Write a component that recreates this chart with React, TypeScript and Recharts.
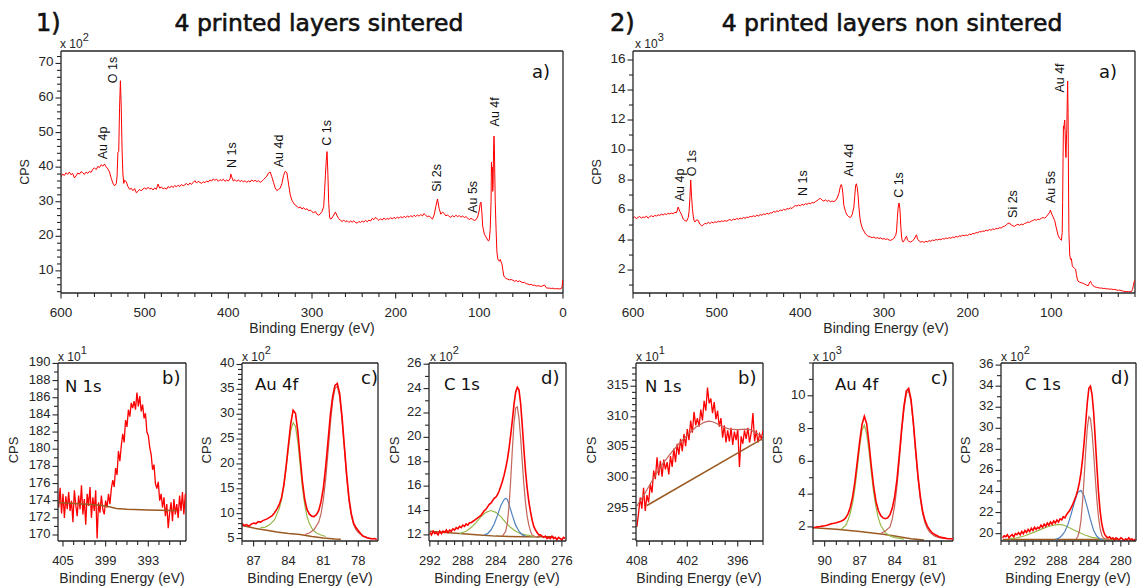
import React from 'react';
import { LineChart, Line, XAxis, YAxis, ReferenceDot, CartesianGrid } from 'recharts';

type Pt = [number, number];

// ---------------- Survey spectra (Binding energy eV, CPS in axis units) ----------------
const surveySintered: Pt[] = [
  [600,37.2],[598,38.0],[596,37.6],[594,38.4],[592,37.9],[590,38.6],[588,37.8],[586,38.2],[584,36.9],[582,37.5],
  [580,38.3],[578,38.0],[576,38.7],[574,38.4],[572,37.9],[570,38.6],[568,38.2],[566,38.8],[564,38.5],[562,39.4],
  [560,39.8],[558,39.3],[556,40.2],[554,39.9],[552,40.7],[550,40.3],[548,40.9],[546,40.1],[544,39.5],[542,38.6],
  [540,36.8],[538,35.4],[536,34.6],[534,35.2],[533,37.2],[532,44.3],[531,44.5],[530,57.3],[529,65.0],[528,57.4],
  [527,45.0],[526,38.0],[525,35.3],[524,36.2],[522,35.8],[520,34.4],[518,33.6],[516,33.9],[514,33.2],[512,33.8],
  [510,32.6],[508,33.0],[506,33.6],[504,33.1],[502,33.7],[500,34.0],[498,33.6],[496,34.2],[494,33.7],[492,33.9],
  [490,33.4],[488,34.0],[486,33.6],[484,35.1],[482,33.9],[480,34.3],[478,33.7],[476,34.0],[474,33.6],[472,34.4],
  [470,34.0],[468,34.6],[466,34.1],[464,34.7],[462,34.3],[460,34.8],[458,34.4],[456,35.0],[454,34.6],[452,34.9],
  [450,35.3],[448,34.8],[446,35.4],[444,35.0],[442,35.6],[440,36.1],[438,35.4],[436,35.9],[434,35.6],[432,35.3],
  [430,35.8],[428,35.5],[426,36.0],[424,35.7],[422,36.3],[420,36.0],[418,36.6],[416,36.2],[414,36.5],[412,35.9],
  [410,36.4],[408,36.1],[406,36.5],[404,35.9],[402,36.3],[400,36.0],[398,36.6],[397,38.0],[396,37.2],[394,36.0],
  [392,36.4],[390,35.9],[388,36.3],[386,35.8],[384,36.2],[382,35.7],[380,36.1],[378,35.6],[376,36.0],[374,35.7],
  [372,36.3],[370,35.9],[368,36.2],[366,35.8],[364,36.1],[362,35.6],[360,35.9],[358,36.4],[356,36.9],[354,37.4],
  [352,38.3],[350,38.6],[348,37.2],[346,35.6],[344,34.0],[342,33.2],[340,33.6],[338,33.9],[336,35.2],[334,37.6],
  [332,38.8],[330,38.4],[328,35.1],[326,32.0],[324,30.4],[322,29.6],[320,29.0],[318,28.7],[316,28.2],[314,28.5],
  [312,27.9],[310,28.3],[308,27.7],[306,28.0],[304,27.4],[302,27.6],[300,27.1],[298,26.8],[296,27.2],[294,26.4],
  [292,26.1],[290,26.5],[288,27.2],[286,28.6],[285,33.0],[284,37.5],[283,41.8],[282,44.5],[281,38.0],[280,29.5],
  [279,25.6],[278,25.0],[276,25.3],[274,26.2],[272,27.0],[270,25.9],[268,25.1],[266,24.6],[264,24.3],[262,24.7],
  [260,24.2],[258,24.5],[256,24.0],[254,24.4],[252,24.1],[250,24.5],[248,24.0],[246,23.8],[244,24.3],[242,24.0],
  [240,24.4],[238,24.1],[236,24.6],[234,24.2],[232,24.7],[230,24.4],[228,25.2],[226,24.8],[224,25.5],[222,25.0],
  [220,24.6],[218,25.1],[216,24.7],[214,25.3],[212,24.8],[210,25.2],[208,24.9],[206,25.4],[204,25.0],[202,25.5],
  [200,25.1],[198,25.6],[196,25.2],[194,25.7],[192,25.3],[190,25.8],[188,25.4],[186,25.9],[184,25.5],[182,26.0],
  [180,25.6],[178,26.1],[176,25.7],[174,26.2],[172,25.8],[170,26.3],[168,25.9],[166,26.6],[164,26.0],[162,25.7],
  [160,25.9],[158,25.4],[156,25.0],[154,26.2],[152,28.6],[150,30.8],[148,28.0],[146,26.4],[144,27.0],[142,26.6],
  [140,25.9],[138,26.2],[136,25.7],[134,25.5],[132,26.0],[130,25.6],[128,26.1],[126,25.7],[124,26.0],[122,25.5],
  [120,25.9],[118,25.4],[116,25.7],[114,25.3],[112,24.8],[110,25.2],[108,24.9],[106,24.6],[104,24.8],[102,25.6],
  [100,27.6],[99,29.4],[98,29.9],[97,27.0],[96,23.0],[95,21.8],[94,20.6],[92,19.8],[90,18.9],[89,18.6],
  [88,19.2],[87,22.0],[86,30.0],[85.5,41.5],[85,38.5],[84.5,40.0],[84,33.0],[83.5,35.0],[83,45.0],[82.5,49.0],
  [82,45.5],[81.5,38.0],[81,30.0],[80,22.0],[79,15.5],[78,13.5],[77,13.0],[76,12.8],[75,13.3],[74,12.6],
  [73,12.0],[72,10.5],[71,8.8],[70,8.2],[68,7.8],[66,7.6],[64,7.4],[62,7.5],[60,7.3],[58,7.0],
  [56,7.2],[54,6.9],[52,7.1],[50,6.8],[48,6.6],[46,6.7],[44,6.3],[42,6.2],[40,6.0],[38,6.1],
  [36,5.8],[34,5.9],[32,5.6],[30,5.7],[28,5.6],[26,5.5],[24,5.7],[22,5.9],[20,5.1],[18,5.0],
  [16,5.0],[14,4.9],[12,5.0],[10,4.8],[8,4.9],[6,4.8],[4,4.8],[2,4.9],[1,5.5],[0.5,7.2],[0,7.4],
];

const surveyNonSintered: Pt[] = [
  [600,5.49],[598,5.55],[596,5.42],[594,5.5],[592,5.58],[590,5.46],[588,5.54],[586,5.5],[584,5.6],[582,5.45],
  [580,5.56],[578,5.62],[576,5.55],[574,5.64],[572,5.6],[570,5.68],[568,5.64],[566,5.72],[564,5.67],[562,5.75],
  [560,5.7],[558,5.78],[556,5.74],[554,5.8],[552,5.76],[550,5.84],[548,5.82],[547,6.0],[546,6.2],[545,6.05],
  [544,5.9],[542,5.7],[540,5.4],[538,5.3],[536,5.25],[534,5.5],[533,5.9],[532,6.8],[531,8.0],[530,6.9],
  [529,6.1],[528,5.6],[527,5.3],[526,5.2],[524,5.35],[522,5.3],[520,5.05],[518,4.95],[516,5.0],[514,5.12],
  [512,5.08],[510,5.18],[508,5.1],[506,5.2],[504,5.14],[502,5.22],[500,5.18],[498,5.26],[496,5.2],[494,5.28],
  [492,5.24],[490,5.3],[488,5.25],[486,5.33],[484,5.36],[482,5.3],[480,5.4],[478,5.35],[476,5.44],[474,5.38],
  [472,5.46],[470,5.42],[468,5.5],[466,5.45],[464,5.53],[462,5.5],[460,5.58],[458,5.55],[456,5.62],[454,5.56],
  [452,5.66],[450,5.6],[448,5.7],[446,5.65],[444,5.74],[442,5.7],[440,5.78],[438,5.73],[436,5.82],[434,5.8],
  [432,5.9],[430,5.86],[428,5.95],[426,5.9],[424,6.0],[422,5.96],[420,6.05],[418,6.0],[416,6.1],[414,6.06],
  [412,6.15],[410,6.1],[408,6.22],[406,6.3],[404,6.26],[402,6.34],[400,6.28],[398,6.38],[396,6.33],[394,6.42],
  [392,6.38],[390,6.46],[388,6.42],[386,6.5],[384,6.48],[382,6.56],[380,6.62],[378,6.72],[376,6.78],[374,6.66],
  [372,6.6],[370,6.68],[368,6.58],[366,6.64],[364,6.55],[362,6.6],[360,6.56],[358,6.62],[356,6.8],[354,7.1],
  [352,7.6],[351,7.7],[350,7.5],[349,7.0],[348,6.3],[346,5.9],[344,5.65],[342,5.55],[340,5.5],[338,5.7],
  [336,6.2],[335,6.9],[334,7.6],[333,7.75],[332,7.5],[331,7.0],[330,6.2],[329,5.6],[328,5.2],[326,4.8],
  [324,4.6],[322,4.4],[320,4.3],[318,4.24],[316,4.2],[314,4.16],[312,4.2],[310,4.12],[308,4.16],[306,4.1],
  [304,4.14],[302,4.06],[300,4.1],[298,4.04],[296,4.08],[294,4.0],[292,3.98],[290,4.04],[288,4.12],[287,4.25],
  [286,4.3],[285,4.6],[284,5.5],[283,6.2],[282,6.47],[281,6.1],[280,5.0],[279,4.2],[278,3.92],[277,3.86],
  [276,3.95],[275,4.05],[274,4.2],[273,4.25],[272,4.0],[270,3.9],[268,3.86],[266,3.95],[264,4.05],[262,4.28],
  [261,4.35],[260,4.05],[258,3.95],[256,3.86],[254,3.9],[252,3.84],[250,3.92],[248,3.88],[246,3.96],[244,3.92],
  [242,4.0],[240,3.96],[238,4.04],[236,4.0],[234,4.06],[232,4.02],[230,4.1],[228,4.06],[226,4.14],[224,4.1],
  [222,4.16],[220,4.12],[218,4.2],[216,4.16],[214,4.24],[212,4.2],[210,4.28],[208,4.25],[206,4.32],[204,4.28],
  [202,4.34],[200,4.3],[198,4.4],[196,4.36],[194,4.44],[192,4.42],[190,4.5],[188,4.48],[186,4.56],[184,4.54],
  [182,4.6],[180,4.58],[178,4.66],[176,4.62],[174,4.7],[172,4.66],[170,4.74],[168,4.7],[166,4.78],[164,4.75],
  [162,4.82],[160,4.8],[158,4.88],[156,4.92],[154,5.0],[152,5.1],[150,5.14],[148,5.0],[146,4.95],[144,4.91],
  [142,5.0],[140,5.05],[138,4.98],[136,5.06],[134,5.02],[132,5.1],[130,5.14],[128,5.2],[126,5.18],[124,5.26],
  [122,5.3],[120,5.37],[118,5.32],[116,5.4],[114,5.36],[112,5.45],[110,5.5],[108,5.46],[106,5.55],[104,5.7],
  [102,5.85],[101,6.0],[100,5.8],[98,5.55],[96,5.3],[94,4.8],[92,4.33],[90,4.1],[88,3.98],[87,4.5],
  [86.5,6.5],[86,9.5],[85.5,11.6],[85,11.4],[84.5,11.8],[84,12.0],[83.5,11.2],[83,10.0],[82.5,9.5],[82,10.6],
  [81.5,11.4],[81,13.2],[80.5,14.6],[80,12.5],[79.5,8.0],[79,4.5],[78,3.0],[77,2.7],[76,2.75],[75,2.3],
  [74,2.2],[73,2.15],[72,2.1],[71,2.05],[70,1.7],[69,1.4],[68,1.25],[66,1.19],[64,1.15],[62,1.12],
  [60,1.05],[58,1.0],[56,0.95],[54,1.2],[53,1.25],[52,1.1],[50,0.95],[48,0.88],[46,0.85],[44,0.82],
  [42,0.8],[40,0.8],[38,0.77],[36,0.78],[34,0.74],[32,0.75],[30,0.72],[28,0.73],[26,0.7],[24,0.71],
  [22,0.67],[20,0.65],[18,0.66],[16,0.62],[14,0.6],[12,0.56],[10,0.57],[8,0.56],[6,0.55],[4,0.58],
  [3,0.7],[2,0.95],[1,1.2],[0.5,1.3],
];

// ---------------- High resolution spectra: energy grid start / step, then counts ----------------
const n1sSStart = 405.6, n1sSStep = 0.2;
const n1sSCounts = [
  173.2,175.5,172.5,174.8,172.0,174.5,173.0,175.0,172.8,174.0,171.5,175.2,173.5,172.2,174.6,173.0,175.8,172.4,174.2,171.2,
  174.8,173.4,175.6,172.0,174.4,172.8,175.2,169.6,173.8,172.6,174.6,173.0,172.4,174.0,173.2,174.8,173.6,175.4,176.4,175.6,
  177.8,177.0,179.8,178.6,180.4,181.8,180.8,183.4,182.6,184.6,183.8,185.4,184.8,185.6,184.6,186.6,185.0,186.2,184.4,185.2,
  183.6,184.2,182.0,181.6,180.2,179.4,177.6,178.2,176.0,175.4,176.2,174.0,174.8,173.2,174.4,172.2,173.6,170.8,172.6,173.8,
  171.6,174.2,172.4,173.6,172.0,174.6,172.8,175.0,172.4,174.8,
];
const n1sSBackground: Pt[] = [[405.7,173.8],[400,173.5],[398.5,173.3],[397.5,173.1],[396,173.0],[393,172.9],[390,172.85],[389,172.85]];

const au4fSStart = 88.0, au4fSStep = 0.2;
const au4fSCounts = [
  8.0,7.6,7.8,7.5,7.9,8.1,8.0,8.4,8.3,8.6,8.8,9.0,9.3,9.6,10.2,10.9,11.8,13.2,15.8,19.6,
  24.0,28.2,30.8,30.2,26.6,21.4,16.4,12.8,10.8,9.9,9.5,9.4,9.8,10.6,12.4,15.2,19.4,24.6,29.8,33.6,
  35.8,36.2,34.2,29.6,23.8,18.0,13.2,10.0,8.1,7.2,6.6,6.0,5.5,5.3,5.1,5.0,4.9,5.0,4.8,
];
const au4fSComp52: Pt[] = [[86.4,7.2],[86.0,7.3],[85.6,7.8],[85.2,8.8],[84.8,11.0],[84.6,12.8],[84.4,15.5],[84.2,19.2],[84.0,23.3],[83.8,26.8],[83.6,28.3],[83.4,27.6],[83.2,24.5],[83.0,19.8],[82.8,15.2],[82.6,11.7],[82.4,9.4],[82.2,8.0],[82.0,7.1],[81.8,6.5],[81.6,6.1],[81.2,5.7],[80.8,5.4]];
const au4fSComp72: Pt[] = [[82.6,5.8],[82.2,6.1],[81.8,6.8],[81.4,8.3],[81.2,10.0],[81.0,12.8],[80.8,17.0],[80.6,22.4],[80.4,28.0],[80.2,32.6],[80.0,35.2],[79.8,35.6],[79.6,33.6],[79.4,29.0],[79.2,23.2],[79.0,17.4],[78.8,12.6],[78.6,9.6],[78.4,7.8],[78.2,6.8],[78.0,6.2],[77.6,5.5],[77.2,5.2],[76.8,5.0]];
const au4fSBackground: Pt[] = [[88.0,7.6],[87.0,7.1],[86.0,6.7],[85.0,6.3],[84.0,6.0],[83.0,5.8],[82.0,5.4],[81.0,5.1],[80.0,4.9],[79.5,4.85]];

const c1sSStart = 292.0, c1sSStep = 0.2;
const c1sSCounts = [
  12.2,12.0,12.3,12.1,12.2,12.0,12.3,12.1,12.3,12.2,12.4,12.2,12.4,12.3,12.5,12.4,12.6,12.5,12.7,12.6,
  12.8,12.7,12.9,12.8,13.0,13.0,13.1,13.2,13.3,13.4,13.5,13.6,13.8,14.0,14.1,14.3,14.5,14.6,14.8,15.0,
  15.1,15.3,15.6,16.0,16.4,16.9,17.5,18.2,19.1,20.2,21.4,22.7,23.7,24.1,23.9,22.8,21.0,19.0,17.2,15.8,
  14.7,13.9,13.2,12.7,12.4,12.2,12.0,12.0,11.9,11.8,11.9,11.7,11.8,11.7,11.9,11.7,11.8,11.6,11.8,11.7,
  11.6,11.8,11.7,
];
const c1sSCompCC: Pt[] = [[283.2,11.9],[282.8,12.3],[282.6,13.0],[282.4,14.4],[282.2,16.5],[282.0,19.0],[281.8,21.2],[281.6,22.4],[281.4,22.5],[281.2,21.6],[281.0,20.0],[280.8,18.0],[280.6,16.1],[280.4,14.6],[280.2,13.5],[280.0,12.8],[279.8,12.3],[279.6,12.0],[279.2,11.85],[278.8,11.8]];
const c1sSCompB: Pt[] = [[285.4,12.0],[285.0,12.1],[284.6,12.4],[284.2,12.9],[283.8,13.6],[283.4,14.4],[283.0,14.9],[282.8,15.0],[282.6,14.9],[282.4,14.5],[282.0,13.6],[281.6,12.8],[281.2,12.3],[280.8,12.0],[280.4,11.9]];
const c1sSCompG: Pt[] = [[288.4,12.1],[287.6,12.3],[287.0,12.6],[286.4,13.0],[285.8,13.5],[285.2,13.85],[284.6,14.0],[284.0,13.85],[283.4,13.5],[282.8,13.0],[282.2,12.6],[281.6,12.3],[281.0,12.1],[280.4,12.0],[279.6,11.9],[279.0,11.85]];
const c1sSBackground: Pt[] = [[292,12.3],[288,12.1],[286,12.0],[284,11.9],[280.5,11.85],[277,11.85]];

const n1sNStart = 408.0, n1sNStep = 0.2;
const n1sNCounts = [
  292.0,294.2,296.8,295.0,298.4,294.6,297.2,296.0,299.0,297.6,301.2,299.8,303.4,300.4,302.8,300.2,303.0,301.4,302.6,300.6,
  303.6,301.8,304.8,302.6,305.6,303.8,306.4,304.4,307.2,305.2,308.0,306.2,309.4,307.4,310.8,308.6,309.8,308.4,311.2,309.4,
  312.6,311.0,314.8,312.2,313.0,310.6,312.4,309.6,311.0,308.4,309.8,306.6,308.6,305.8,307.8,306.0,308.2,305.4,307.6,306.2,
  308.0,301.8,306.8,305.6,307.8,306.4,308.2,305.8,307.4,310.6,306.0,307.8,305.8,307.2,306.4,307.8,
];
const n1sNFit: Pt[] = [[408.0,295.4],[407.0,297.6],[406.0,300.0],[405.0,302.2],[404.0,304.0],[403.0,305.6],[402.0,307.0],[401.0,308.3],[400.0,309.1],[399.5,309.3],[399.0,309.2],[398.5,308.9],[398.0,308.5],[397.0,308.0],[396.0,307.9],[395.0,308.0],[394.5,307.9],[394.0,307.5],[393.5,307.1],[393.0,306.9]];
const n1sNBackground: Pt[] = [[406.8,295.5],[393.2,306.3]];

const au4fNStart = 91.0, au4fNStep = 0.2;
const au4fNCounts = [
  1.95,1.98,2.00,2.02,2.05,2.07,2.10,2.15,2.20,2.22,2.25,2.30,2.35,2.42,2.55,2.80,3.20,3.85,4.80,6.00,
  7.20,8.25,8.75,8.30,7.10,5.70,4.45,3.55,3.00,2.70,2.55,2.50,2.55,2.75,3.15,3.85,4.90,6.40,8.00,9.40,
  10.30,10.45,9.80,8.40,6.70,5.10,3.85,2.95,2.40,2.05,1.82,1.65,1.55,1.48,1.40,1.36,1.33,1.30,1.28,1.28,
  1.27,
];
const au4fNComp52: Pt[] = [[88.6,1.85],[88.2,2.1],[88.0,2.4],[87.8,2.85],[87.6,3.5],[87.4,4.4],[87.2,5.6],[87.0,6.9],[86.8,7.9],[86.6,8.2],[86.4,7.7],[86.2,6.6],[86.0,5.3],[85.8,4.1],[85.6,3.2],[85.4,2.55],[85.2,2.1],[84.8,1.65],[84.4,1.45],[84.0,1.35],[83.2,1.25]];
const au4fNComp72: Pt[] = [[85.2,1.6],[84.8,1.75],[84.4,2.0],[84.2,2.5],[84.0,3.3],[83.8,4.5],[83.6,6.1],[83.4,7.8],[83.2,9.2],[83.0,10.15],[82.8,10.3],[82.6,9.65],[82.4,8.25],[82.2,6.55],[82.0,4.95],[81.8,3.7],[81.6,2.8],[81.4,2.25],[81.2,1.9],[81.0,1.68],[80.6,1.45],[80.2,1.35],[79.6,1.3]];
const au4fNBackground: Pt[] = [[91.0,1.95],[89.0,1.85],[87.0,1.72],[85.0,1.55],[84.0,1.45],[82.6,1.28],[81.5,1.2]];

const c1sNStart = 294.8, c1sNStep = 0.2;
const c1sNCounts = [
  19.6,19.8,19.7,19.9,19.6,19.8,19.9,19.7,20.0,19.9,20.1,19.9,20.2,20.0,20.3,20.1,20.4,20.2,20.5,20.3,
  20.6,20.4,20.6,20.5,20.8,20.6,20.9,20.7,21.0,20.8,21.1,20.9,21.2,21.0,21.3,21.1,21.4,21.3,21.6,21.5,
  21.8,22.0,22.2,22.5,22.8,23.2,23.6,24.1,24.8,25.7,27.0,28.6,30.5,32.4,33.8,34.0,33.2,31.5,29.0,26.4,
  24.0,22.2,21.0,20.3,19.9,19.7,19.6,19.7,19.5,19.6,19.4,19.6,19.5,19.4,19.6,19.5,19.3,19.5,19.4,19.6,
  19.4,19.5,19.3,19.5,
];
const c1sNCompCC: Pt[] = [[285.6,19.5],[285.4,19.7],[285.2,20.2],[285.0,21.2],[284.8,22.9],[284.6,25.2],[284.4,27.8],[284.2,30.0],[284.0,31.1],[283.8,30.9],[283.6,29.6],[283.4,27.6],[283.2,25.3],[283.0,23.2],[282.8,21.6],[282.6,20.5],[282.4,19.9],[282.2,19.6],[281.8,19.45],[281.4,19.4]];
const c1sNCompB: Pt[] = [[288.2,19.45],[287.8,19.55],[287.4,19.8],[287.0,20.2],[286.6,20.9],[286.2,21.9],[285.8,23.0],[285.4,23.9],[285.0,24.1],[284.6,23.6],[284.2,22.5],[283.8,21.3],[283.4,20.3],[283.0,19.75],[282.6,19.5],[282.2,19.4]];
const c1sNCompG: Pt[] = [[294.0,19.5],[293.0,19.6],[292.0,19.8],[291.0,20.1],[290.0,20.4],[289.0,20.7],[288.0,20.85],[287.4,20.85],[286.8,20.7],[286.0,20.4],[285.2,20.1],[284.4,19.85],[283.6,19.65],[282.6,19.5],[281.6,19.45],[280.6,19.4]];
const c1sNBackground: Pt[] = [[294.8,19.45],[280.4,19.45]];

// ---------------- Peak annotations (BE, CPS position of label centre) ----------------
type PeakLabel = { text: string; x: number; y: number };
const peaksSintered: PeakLabel[] = [
  { text: 'Au 4p', x: 550, y: 47.0 }, { text: 'O 1s', x: 538.3, y: 68.1 }, { text: 'N 1s', x: 396, y: 43.5 },
  { text: 'Au 4d', x: 339, y: 44.7 }, { text: 'C 1s', x: 281.7, y: 49.9 }, { text: 'Si 2s', x: 150, y: 36.9 },
  { text: 'Au 5s', x: 107.8, y: 31.4 }, { text: 'Au 4f', x: 81.7, y: 56.0 },
];
const peaksNonSintered: PeakLabel[] = [
  { text: 'Au 4p', x: 544.2, y: 7.67 }, { text: 'O 1s', x: 529.1, y: 9.13 }, { text: 'N 1s', x: 397.1, y: 7.8 },
  { text: 'Au 4d', x: 341.8, y: 9.33 }, { text: 'C 1s', x: 282.5, y: 7.67 }, { text: 'Si 2s', x: 146.3, y: 6.4 },
  { text: 'Au 5s', x: 100.9, y: 7.53 }, { text: 'Au 4f', x: 90, y: 14.8 },
];

// ---------------- Tick labels ----------------
const surveyXMajor = [600, 500, 400, 300, 200, 100, 0];
const surveyXMajorNS = [600, 500, 400, 300, 200, 100];
const surveyYMajorS = [10, 20, 30, 40, 50, 60, 70];
const surveyYMajorNS = [2, 4, 6, 8, 10, 12, 14, 16];
const n1sSXMajor = [405, 399, 393];
const n1sSYMajor = [170, 172, 174, 176, 178, 180, 182, 184, 186, 188, 190];
const au4fSXMajor = [87, 84, 81, 78];
const au4fSYMajor = [5, 10, 15, 20, 25, 30, 35, 40];
const c1sSXMajor = [292, 288, 284, 280, 276];
const c1sSYMajor = [12, 14, 16, 18, 20, 22, 24, 26];
const n1sNXMajor = [408, 402, 396];
const n1sNYMajor = [295, 300, 305, 310, 315];
const au4fNXMajor = [90, 87, 84, 81];
const au4fNYMajor = [2, 4, 6, 8, 10];
const c1sNXMajor = [292, 288, 284, 280];
const c1sNYMajor = [20, 22, 24, 26, 28, 30, 32, 34, 36];

// ---------------- helpers ----------------
const FONT_AX = "'Liberation Sans', Arial, Helvetica, sans-serif";
const FONT_T = "'DejaVu Sans', Verdana, sans-serif";
const AXC = '#262626';
const TXT = '#262626';
const RED = '#ff0000';
const GREEN = '#98b84c';
const BLUE = '#4f81bd';
const BROWN = '#9a5a22';
const ROSE = '#c2655a';

type XY = { x: number; y: number };
const toPts = (p: Pt[]): XY[] => p.map(([x, y]) => ({ x, y }));
const gridPts = (start: number, step: number, ys: number[]): XY[] =>
  ys.map((y, i) => ({ x: +(start - i * step).toFixed(3), y }));
const range = (a: number, b: number, s: number): number[] => {
  const out: number[] = [];
  for (let v = a; v <= b + 1e-9; v += s) out.push(+v.toFixed(4));
  return out;
};

type Series = { data: XY[]; color: string; width: number };

type PanelProps = {
  left: number; top: number; width: number; height: number;
  xDomain: [number, number]; yDomain: [number, number];
  xTicks: number[]; xMajor: number[]; yTicks: number[]; yMajor: number[];
  series: Series[]; labels?: PeakLabel[]; fs: number;
};

const PAD_L = 60, PAD_T = 10, PAD_R = 10, PAD_B = 50;

function Panel(p: PanelProps) {
  const isMaj = (arr: number[], v: number) => arr.some((m) => Math.abs(m - v) < 1e-6);
  const XTick = (tp: any) => {
    const { x, y, payload } = tp;
    const v = payload.value as number;
    const maj = isMaj(p.xMajor, v);
    return (
      <g>
        <line x1={x} x2={x} y1={y} y2={y + (maj ? 5.5 : 4)} stroke={AXC} strokeWidth={1.1} />
        {maj && (
          <text x={x} y={y + 23.5} textAnchor="middle" fontSize={p.fs} fontFamily={FONT_AX} fill={TXT}>
            {String(v)}
          </text>
        )}
      </g>
    );
  };
  const YTick = (tp: any) => {
    const { x, y, payload } = tp;
    const v = payload.value as number;
    const maj = isMaj(p.yMajor, v);
    return (
      <g>
        <line x1={x} x2={x - (maj ? 5.5 : 4)} y1={y} y2={y} stroke={AXC} strokeWidth={1.1} />
        {maj && (
          <text x={x - 7.5} y={y + 3} textAnchor="end" fontSize={p.fs} fontFamily={FONT_AX} fill={TXT}>
            {String(v)}
          </text>
        )}
      </g>
    );
  };
  const axisLine = { stroke: AXC, strokeWidth: 1.3 };
  return (
    <div style={{ position: 'absolute', left: p.left - PAD_L, top: p.top - PAD_T }}>
      <LineChart
        width={p.width + PAD_L + PAD_R}
        height={p.height + PAD_T + PAD_B}
        margin={{ top: PAD_T, right: PAD_R, bottom: 0, left: 0 }}
      >
        {/* frame: top and right edges of the plot box */}
        <CartesianGrid
          stroke={AXC} strokeWidth={1.3} fill="none"
          horizontalCoordinatesGenerator={(gp: any) => [gp.offset.top]}
          verticalCoordinatesGenerator={(gp: any) => [gp.offset.left + gp.offset.width]}
        />
        <XAxis
          xAxisId={0} type="number" dataKey="x" domain={p.xDomain} reversed allowDataOverflow
          ticks={p.xTicks} interval={0} tick={XTick} tickLine={false} tickSize={0} tickMargin={0}
          height={PAD_B} axisLine={axisLine}
        />
        <YAxis
          yAxisId={0} type="number" domain={p.yDomain} allowDataOverflow ticks={p.yTicks} interval={0}
          tick={YTick} tickLine={false} tickSize={0} tickMargin={0} width={PAD_L} axisLine={axisLine}
        />
        {p.series.map((s, i) => (
          <Line
            key={i} xAxisId={0} yAxisId={0} data={s.data} dataKey="y" type="linear"
            stroke={s.color} strokeWidth={s.width} dot={false} activeDot={false}
            isAnimationActive={false}
          />
        ))}
        {(p.labels || []).map((l, i) => (
          <ReferenceDot
            key={'l' + i} xAxisId={0} yAxisId={0} x={l.x} y={l.y} r={0}
            shape={(sp: any) => (
              <text
                x={sp.cx} y={sp.cy} transform={`rotate(-90 ${sp.cx} ${sp.cy})`} textAnchor="middle"
                dominantBaseline="central" fontSize={12.5} fontFamily={FONT_AX} fill="#111"
              >
                {l.text}
              </text>
            )}
          />
        ))}
      </LineChart>
    </div>
  );
}

function Exp({ x, y, base, exp }: { x: number; y: number; base: string; exp: string }) {
  return (
    <text x={x} y={y} fontSize={12} fontFamily={FONT_AX} fill={TXT}>
      {base}
      <tspan dy={-7} fontSize={11}>{exp}</tspan>
    </text>
  );
}

function VText({ x, y, text, fs = 13 }: { x: number; y: number; text: string; fs?: number }) {
  return (
    <text x={x} y={y} transform={`rotate(-90 ${x} ${y})`} textAnchor="middle" dominantBaseline="central"
      fontSize={fs} fontFamily={FONT_AX} fill={TXT}>
      {text}
    </text>
  );
}

function BE({ x, y, fs = 14 }: { x: number; y: number; fs?: number }) {
  return (
    <text x={x} y={y} textAnchor="middle" fontSize={fs} fontFamily={FONT_AX} fill={TXT}>
      Binding Energy (eV)
    </text>
  );
}

function T({ x, y, text, fs, anchor = 'start', bold = false }: { x: number; y: number; text: string; fs: number; anchor?: string; bold?: boolean }) {
  return (
    <text x={x} y={y} textAnchor={anchor as any} fontSize={fs} fontFamily={FONT_T} fill="#111"
      stroke={bold ? '#111' : 'none'} strokeWidth={bold ? 0.6 : 0}>
      {text}
    </text>
  );
}

export default function App() {
  const BT = 363, BH = 178;
  return (
    <div style={{ position: 'absolute', left: 0, top: 0, width: 1137, height: 587, overflow: 'hidden', background: '#fff' }}>
      {/* survey panels */}
      <Panel
        left={61} top={51} width={502} height={242} xDomain={[0, 600]} yDomain={[3.6, 73.6]}
        xTicks={range(0, 600, 20)} xMajor={surveyXMajor} yTicks={range(4, 72, 2)} yMajor={surveyYMajorS}
        series={[{ data: toPts(surveySintered), color: RED, width: 1 }]} labels={peaksSintered} fs={13.5}
      />
      <Panel
        left={633} top={51} width={502} height={242} xDomain={[0, 600]} yDomain={[0.47, 16.6]}
        xTicks={range(0, 600, 20)} xMajor={surveyXMajorNS} yTicks={range(1, 16, 1)} yMajor={surveyYMajorNS}
        series={[{ data: toPts(surveyNonSintered), color: RED, width: 1 }]} labels={peaksNonSintered} fs={13.5}
      />
      {/* detail panels, sintered */}
      <Panel
        left={58} top={BT} width={128} height={BH} xDomain={[387.7, 405.7]} yDomain={[169.3, 190.05]}
        xTicks={range(388.5, 405, 1.5)} xMajor={n1sSXMajor} yTicks={range(170, 190, 1)} yMajor={n1sSYMajor}
        series={[
          { data: gridPts(n1sSStart, n1sSStep, n1sSCounts), color: RED, width: 1.3 },
          { data: toPts(n1sSBackground), color: BROWN, width: 1.5 },
        ]} fs={13}
      />
      <Panel
        left={242} top={BT} width={136} height={BH} xDomain={[76.3, 88.0]} yDomain={[4.5, 40.3]}
        xTicks={range(77, 88, 1)} xMajor={au4fSXMajor} yTicks={range(5, 40, 1)} yMajor={au4fSYMajor}
        series={[
          { data: toPts(au4fSBackground), color: BROWN, width: 1.5 },
          { data: toPts(au4fSComp52), color: GREEN, width: 1.2 },
          { data: toPts(au4fSComp72), color: ROSE, width: 1.2 },
          { data: gridPts(au4fSStart, au4fSStep, au4fSCounts), color: RED, width: 1.6 },
        ]} fs={13}
      />
      <Panel
        left={429} top={BT} width={137} height={BH} xDomain={[275.5, 292.1]} yDomain={[11.5, 26.1]}
        xTicks={range(276, 292, 1)} xMajor={c1sSXMajor} yTicks={range(12, 26, 1)} yMajor={c1sSYMajor}
        series={[
          { data: toPts(c1sSBackground), color: BROWN, width: 1.5 },
          { data: toPts(c1sSCompG), color: GREEN, width: 1.2 },
          { data: toPts(c1sSCompB), color: BLUE, width: 1.2 },
          { data: toPts(c1sSCompCC), color: ROSE, width: 1.2 },
          { data: gridPts(c1sSStart, c1sSStep, c1sSCounts), color: RED, width: 1.6 },
        ]} fs={13}
      />
      {/* detail panels, non sintered */}
      <Panel
        left={636} top={BT} width={127} height={BH} xDomain={[393.0, 408.1]} yDomain={[289.7, 318.8]}
        xTicks={range(393, 408, 1.5)} xMajor={n1sNXMajor} yTicks={range(290, 318, 1)} yMajor={n1sNYMajor}
        series={[
          { data: gridPts(n1sNStart, n1sNStep, n1sNCounts), color: RED, width: 1.3 },
          { data: toPts(n1sNFit), color: ROSE, width: 1.2 },
          { data: toPts(n1sNBackground), color: BROWN, width: 1.5 },
        ]} fs={13}
      />
      <Panel
        left={813} top={BT} width={140} height={BH} xDomain={[79.0, 91.0]} yDomain={[1.14, 12.0]}
        xTicks={range(80, 91, 1)} xMajor={au4fNXMajor} yTicks={range(2, 12, 1)} yMajor={au4fNYMajor}
        series={[
          { data: toPts(au4fNBackground), color: BROWN, width: 1.5 },
          { data: toPts(au4fNComp52), color: GREEN, width: 1.2 },
          { data: toPts(au4fNComp72), color: ROSE, width: 1.2 },
          { data: gridPts(au4fNStart, au4fNStep, au4fNCounts), color: RED, width: 1.6 },
        ]} fs={13}
      />
      <Panel
        left={1001} top={BT} width={135} height={BH} xDomain={[278.1, 295.0]} yDomain={[19.3, 36.2]}
        xTicks={range(279, 295, 1)} xMajor={c1sNXMajor} yTicks={range(20, 36, 1)} yMajor={c1sNYMajor}
        series={[
          { data: toPts(c1sNBackground), color: BROWN, width: 1.5 },
          { data: toPts(c1sNCompG), color: GREEN, width: 1.2 },
          { data: toPts(c1sNCompB), color: BLUE, width: 1.2 },
          { data: toPts(c1sNCompCC), color: ROSE, width: 1.2 },
          { data: gridPts(c1sNStart, c1sNStep, c1sNCounts), color: RED, width: 1.6 },
        ]} fs={13}
      />

      {/* text overlay */}
      <svg width={1137} height={587} style={{ position: 'absolute', left: 0, top: 0, pointerEvents: 'none' }}>
        <T x={36} y={31} text="1)" fs={24} bold />
        <T x={319} y={31} text="4 printed layers sintered" fs={23.5} anchor="middle" bold />
        <T x={610} y={31} text="2)" fs={24} bold />
        <T x={892} y={31} text="4 printed layers non sintered" fs={23.5} anchor="middle" bold />

        <Exp x={60} y={48} base="x 10" exp="2" />
        <Exp x={635} y={48} base="x 10" exp="3" />
        <T x={532} y={78} text="a)" fs={18} />
        <T x={1099} y={78} text="a)" fs={18} />
        <VText x={25} y={172} text="CPS" fs={12.5} />
        <VText x={597} y={172} text="CPS" fs={12.5} />
        <BE x={312} y={333} />
        <BE x={886} y={333} />

        <Exp x={58} y={361} base="x 10" exp="1" />
        <Exp x={242} y={361} base="x 10" exp="2" />
        <Exp x={430} y={361} base="x 10" exp="2" />
        <Exp x={636} y={361} base="x 10" exp="1" />
        <Exp x={813} y={361} base="x 10" exp="3" />
        <Exp x={1001} y={361} base="x 10" exp="2" />

        <T x={65} y={392} text="N 1s" fs={16.5} />
        <T x={255} y={390} text="Au 4f" fs={16.5} />
        <T x={444} y={390} text="C 1s" fs={16.5} />
        <T x={645} y={392} text="N 1s" fs={16.5} />
        <T x={835} y={390} text="Au 4f" fs={16.5} />
        <T x={1025} y={390} text="C 1s" fs={16.5} />

        <T x={162} y={384} text="b)" fs={18} />
        <T x={361} y={384} text="c)" fs={18} />
        <T x={541} y={384} text="d)" fs={18} />
        <T x={738} y={384} text="b)" fs={18} />
        <T x={931} y={384} text="c)" fs={18} />
        <T x={1111} y={384} text="d)" fs={18} />

        <VText x={13} y={450} text="CPS" />
        <VText x={206} y={450} text="CPS" />
        <VText x={394} y={450} text="CPS" />
        <VText x={591} y={450} text="CPS" />
        <VText x={777} y={450} text="CPS" />
        <VText x={965} y={450} text="CPS" />

        <BE x={122} y={583} />
        <BE x={310} y={583} />
        <BE x={497} y={583} />
        <BE x={699} y={583} />
        <BE x={883} y={583} />
        <BE x={1068} y={583} />
      </svg>
    </div>
  );
}
